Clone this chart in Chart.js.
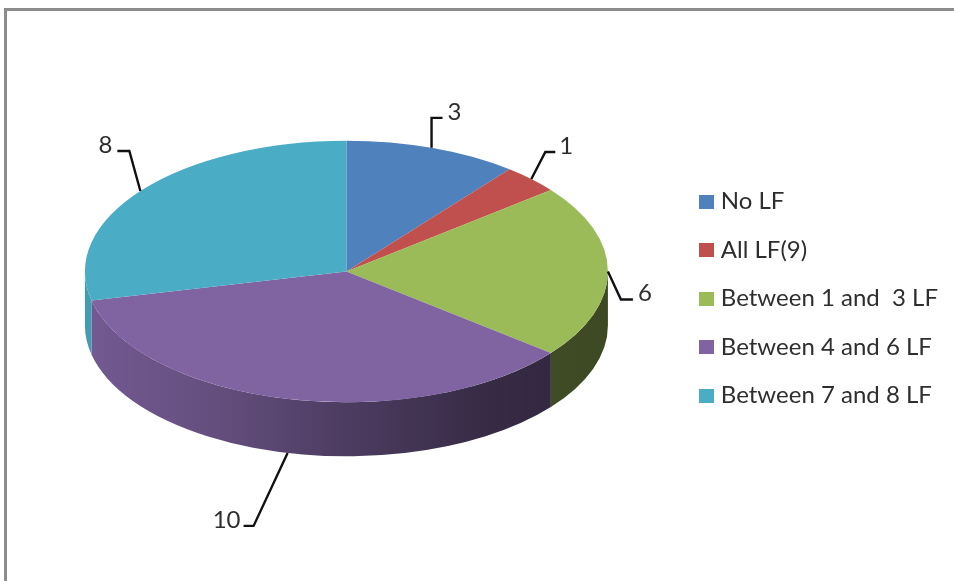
<!DOCTYPE html>
<html>
<head>
<meta charset="utf-8">
<style>
html,body{margin:0;padding:0;background:#fff;overflow:hidden}
#wrap{position:absolute;left:0;top:0;width:954px;height:581px}
#frame{position:absolute;left:4px;top:8px;right:0;bottom:0;border-left:3px solid #8c8c8c;border-top:3px solid #8c8c8c}
canvas{position:absolute;left:0;top:0}
</style>
<script src="https://cdn.jsdelivr.net/npm/chart.js@4/dist/chart.umd.js"></script>
</head>
<body>
<div id="wrap"><div id="frame"></div><canvas id="c" width="954" height="581"></canvas></div>
<script>
const categories = ['No LF', 'All LF(9)', 'Between 1 and  3 LF', 'Between 4 and 6 LF', 'Between 7 and 8 LF'];
const values = [3, 1, 6, 10, 8];
const colors = ['#4f81bd', '#c0504d', '#9bbb59', '#8064a2', '#4bacc6'];

const PIE_CENTER_Y = 271.5, SQUASH = 0.5, DEPTH = 54;
const FONT = '"Lato", "Liberation Sans", sans-serif';
const TEXT = '#2e2e2e';
// leader: clock angle on the rim, on top or bottom rim, elbow offset, tail offset, label offset
const leaders = [
  {clock: 19,  low: false, elbow: [0, -30],  tail: [11, 0],  text: [12, -6]},
  {clock: 45,  low: false, elbow: [14, -27], tail: [10, 0],  text: [11, -6]},
  {clock: 90,  low: false, elbow: [13, 28],  tail: [12, 0],  text: [12, -6]},
  {clock: 193, low: true,  elbow: [-34, 73], tail: [-10, 0], text: [-17, -6]},
  {clock: 308, low: false, elbow: [-11, -40],tail: [-12, 0], text: [-12, -6]}
];

function shade(hex, f) {
  const n = parseInt(hex.slice(1), 16);
  return `rgb(${Math.round((n >> 16) * f)},${Math.round(((n >> 8) & 255) * f)},${Math.round((n & 255) * f)})`;
}

const pie3d = {
  id: 'pie3d',
  beforeDatasetsDraw(chart) {
    const ctx = chart.ctx, arcs = chart.getDatasetMeta(0).data;
    const first = arcs[0], rx = first.outerRadius, ry = rx * SQUASH, cx = first.x;
    ctx.save();
    arcs.forEach((a, i) => {
      const s = Math.max(a.startAngle, 0), e = Math.min(a.endAngle, Math.PI);
      if (e <= s) return;
      const g = ctx.createLinearGradient(cx - rx, 0, cx + rx, 0);
      [[0, .9], [.25, .78], [.5, .6], [.78, .42], [1, .39]].forEach(p => g.addColorStop(p[0], shade(colors[i], p[1])));
      ctx.beginPath();
      ctx.ellipse(cx, PIE_CENTER_Y, rx, ry, 0, s, e);
      ctx.ellipse(cx, PIE_CENTER_Y + DEPTH, rx, ry, 0, e, s, true);
      ctx.closePath();
      ctx.fillStyle = g;
      ctx.fill();
    });
    ctx.translate(cx, PIE_CENTER_Y);
    ctx.scale(1, SQUASH);
    ctx.translate(-cx, -first.y);
  },
  afterDatasetsDraw(chart) {
    const ctx = chart.ctx, arcs = chart.getDatasetMeta(0).data;
    ctx.restore();
    const first = arcs[0], rx = first.outerRadius, ry = rx * SQUASH, cx = first.x;
    ctx.save();
    ctx.strokeStyle = '#111';
    ctx.lineWidth = 2.4;
    ctx.fillStyle = TEXT;
    ctx.font = '24px ' + FONT;
    ctx.textAlign = 'center';
    ctx.textBaseline = 'middle';
    values.forEach((v, i) => {
      const L = leaders[i], t = L.clock * Math.PI / 180;
      const x0 = cx + rx * Math.sin(t);
      const y0 = PIE_CENTER_Y - ry * Math.cos(t) + (L.low ? DEPTH : 0);
      const x1 = x0 + L.elbow[0], y1 = y0 + L.elbow[1];
      const x2 = x1 + L.tail[0], y2 = y1 + L.tail[1];
      ctx.beginPath();
      ctx.moveTo(x0, y0); ctx.lineTo(x1, y1); ctx.lineTo(x2, y2);
      ctx.stroke();
      ctx.fillText(String(v), x2 + L.text[0], y2 + L.text[1]);
    });
    ctx.restore();
  }
};

function swatch(color) {
  const c = document.createElement('canvas');
  c.width = 15; c.height = 14;
  const g = c.getContext('2d');
  g.fillStyle = color;
  g.fillRect(0, 0, 15, 14);
  return c;
}

new Chart(document.getElementById('c'), {
  type: 'pie',
  plugins: [pie3d],
  data: {
    labels: categories,
    datasets: [{data: values, backgroundColor: colors, borderWidth: 0, clip: false}]
  },
  options: {
    responsive: false,
    animation: false,
    radius: 261.5,
    layout: {padding: {top: 16, left: 13.5, right: 6, bottom: 0}},
    plugins: {
      tooltip: {enabled: false},
      legend: {
        position: 'right',
        align: 'center',
        labels: {
          font: {family: FONT, size: 24},
          color: TEXT,
          padding: 24.5,
          usePointStyle: true,
          pointStyleWidth: 5,
          boxWidth: 5,
          boxHeight: 14,
          generateLabels(chart) {
            return Chart.overrides.pie.plugins.legend.labels.generateLabels(chart).map((it, i) => {
              it.pointStyle = swatch(colors[i]);
              return it;
            });
          }
        }
      }
    }
  }
});
</script>
</body>
</html>
